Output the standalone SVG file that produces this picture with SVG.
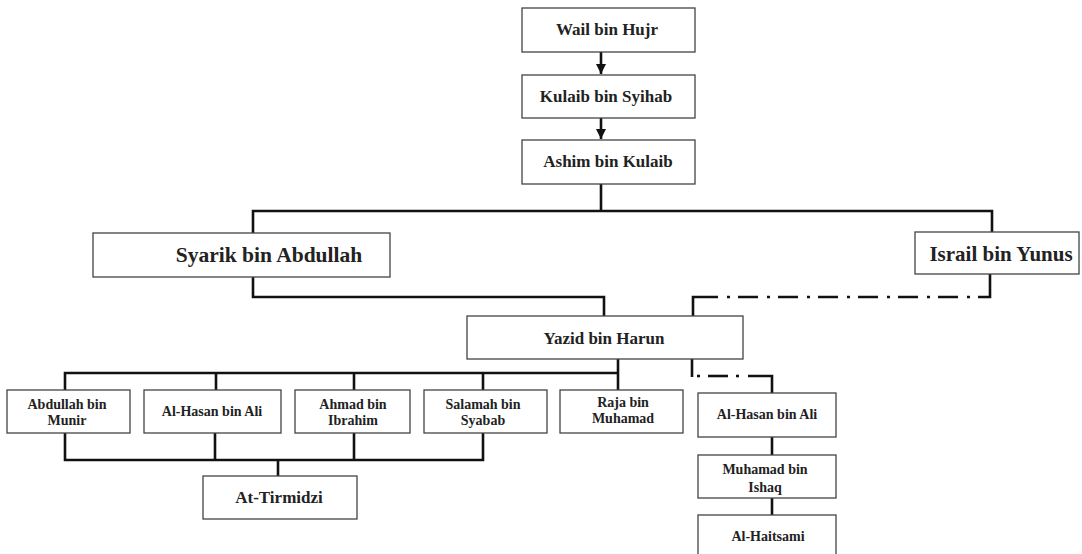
<svg xmlns="http://www.w3.org/2000/svg" width="1082" height="554" viewBox="0 0 1082 554">
<style>
.box{fill:#fff;stroke:#444;stroke-width:1.3}
.t{font-family:"Liberation Serif",serif;font-weight:bold;fill:#222;text-anchor:middle}
.ln{fill:none;stroke:#111;stroke-width:2.6}
.dd{fill:none;stroke:#111;stroke-width:2.6;stroke-dasharray:20 8 3 9}
</style>
<defs>
<marker id="ah" viewBox="0 0 10 10" refX="10" refY="5" markerWidth="4" markerHeight="4" orient="auto"><path d="M0,0L10,5L0,10z" fill="#111"/></marker>
</defs>
<rect width="1082" height="554" fill="#fff"/>
<g id="connectors">
<line class="ln" x1="601" y1="52" x2="601" y2="74" marker-end="url(#ah)"/>
<line class="ln" x1="601" y1="118" x2="601" y2="139" marker-end="url(#ah)"/>
<polyline class="ln" points="601,184 601,211"/>
<polyline class="ln" points="253,233 253,211 992,211 992,232"/>
<polyline class="ln" points="253,277 253,297 604,297 604,316"/>
<polyline class="ln" points="990,274 990,297 978,297"/>
<line class="dd" x1="970" y1="297" x2="717" y2="297" style="stroke-dasharray:3 9 20 8"/>
<polyline class="ln" points="717,297 693,297 693,316"/>
<polyline class="ln" points="618,358 618,390"/>
<polyline class="ln" points="65,390 65,373 618,373"/>
<line class="ln" x1="216" y1="373" x2="216" y2="390"/>
<line class="ln" x1="354" y1="373" x2="354" y2="390"/>
<line class="ln" x1="483" y1="373" x2="483" y2="390"/>
<polyline class="ln" points="692,358 692,377"/>
<line class="ln" x1="697" y1="376" x2="700" y2="376"/>
<line class="ln" x1="708" y1="376" x2="728" y2="376"/>
<line class="ln" x1="736" y1="376" x2="739" y2="376"/>
<polyline class="ln" points="748,376 772,376 772,393"/>
<polyline class="ln" points="65,433 65,460 483,460 483,433"/>
<line class="ln" x1="215" y1="433" x2="215" y2="460"/>
<line class="ln" x1="354" y1="433" x2="354" y2="460"/>
<line class="ln" x1="278" y1="460" x2="278" y2="476"/>
<line class="ln" x1="772" y1="437" x2="772" y2="455"/>
<line class="ln" x1="772" y1="498" x2="772" y2="515"/>
</g>
<g id="wail"><rect class="box" x="522" y="8" width="173" height="44"/><text class="t" x="607" y="35" font-size="17">Wail bin Hujr</text></g>
<g id="kulaib"><rect class="box" x="522" y="75" width="173" height="43"/><text class="t" x="606" y="102" font-size="17">Kulaib bin Syihab</text></g>
<g id="ashim"><rect class="box" x="522" y="140" width="173" height="44"/><text class="t" x="608" y="167" font-size="17">Ashim bin Kulaib</text></g>
<g id="syarik"><rect class="box" x="93" y="233" width="297" height="44"/><text class="t" x="269" y="262" font-size="21.5">Syarik bin Abdullah</text></g>
<g id="israil"><rect class="box" x="915" y="232" width="164" height="42"/><text class="t" x="1001" y="261" font-size="21">Israil bin Yunus</text></g>
<g id="yazid"><rect class="box" x="467" y="316" width="276" height="43"/><text class="t" x="604" y="344" font-size="17">Yazid bin Harun</text></g>
<g id="abdullah"><rect class="box" x="7" y="390" width="123" height="43"/><text class="t" x="67" y="409" font-size="14">Abdullah bin</text><text class="t" x="67" y="425" font-size="14">Munir</text></g>
<g id="alhasan1"><rect class="box" x="144" y="390" width="137" height="43"/><text class="t" x="212" y="416" font-size="14">Al-Hasan bin Ali</text></g>
<g id="ahmad"><rect class="box" x="295" y="390" width="115" height="43"/><text class="t" x="353" y="409" font-size="14">Ahmad bin</text><text class="t" x="353" y="425" font-size="14">Ibrahim</text></g>
<g id="salamah"><rect class="box" x="424" y="390" width="123" height="43"/><text class="t" x="483" y="409" font-size="14">Salamah bin</text><text class="t" x="483" y="425" font-size="14">Syabab</text></g>
<g id="raja"><rect class="box" x="560" y="390" width="123" height="43"/><text class="t" x="623" y="407" font-size="14">Raja bin</text><text class="t" x="623" y="423" font-size="14">Muhamad</text></g>
<g id="alhasan2"><rect class="box" x="698" y="393" width="138" height="44"/><text class="t" x="767" y="419" font-size="14">Al-Hasan bin Ali</text></g>
<g id="muhamad"><rect class="box" x="698" y="455" width="138" height="43"/><text class="t" x="765" y="474" font-size="14">Muhamad bin</text><text class="t" x="765" y="492" font-size="14">Ishaq</text></g>
<g id="alhaitsami"><rect class="box" x="698" y="515" width="138" height="45"/><text class="t" x="768" y="541" font-size="14">Al-Haitsami</text></g>
<g id="attirmidzi"><rect class="box" x="203" y="476" width="154" height="43"/><text class="t" x="279" y="503" font-size="17">At-Tirmidzi</text></g>
</svg>
